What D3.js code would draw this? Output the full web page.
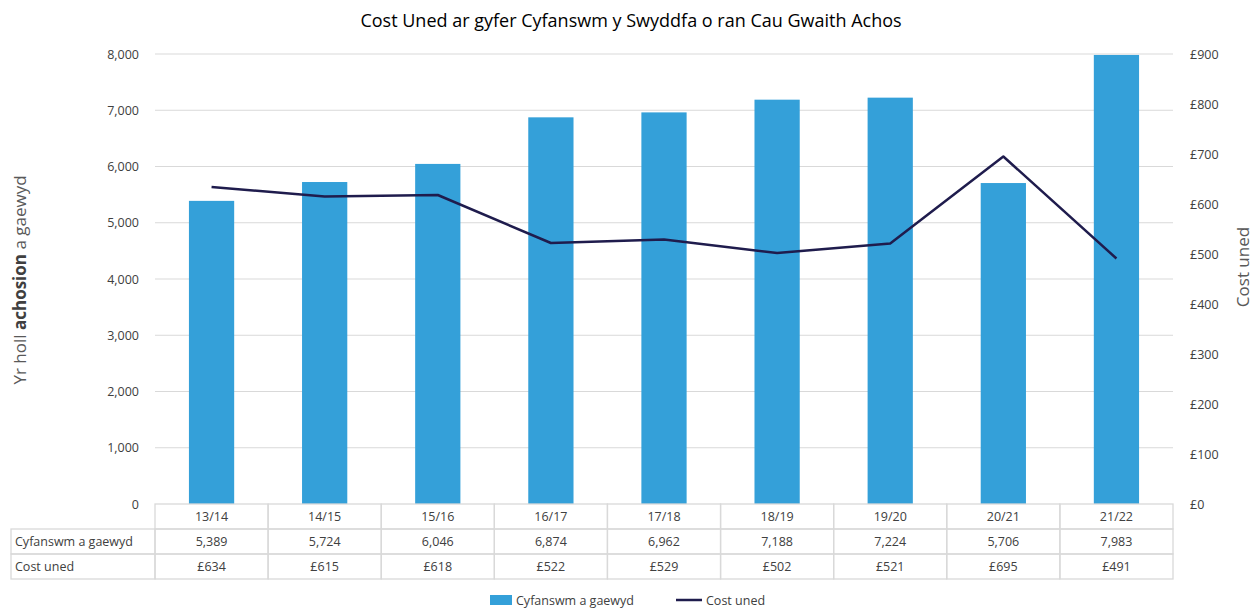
<!DOCTYPE html>
<html>
<head>
<meta charset="utf-8">
<script src="https://cdn.jsdelivr.net/npm/d3@7"></script>
<style>
  body { margin: 0; background: #fff; }
  svg { font-family: "Open Sans", sans-serif; }
</style>
</head>
<body>
<svg id="chart" width="1260" height="609"></svg>
<script>
// data
var years = ["13/14", "14/15", "15/16", "16/17", "17/18", "18/19", "19/20", "20/21", "21/22"];
var closedCases = [5389, 5724, 6046, 6874, 6962, 7188, 7224, 5706, 7983];
var unitCost = [634, 615, 618, 522, 529, 502, 521, 695, 491];
var leftTicks = [0, 1000, 2000, 3000, 4000, 5000, 6000, 7000, 8000];
var rightTicks = [0, 100, 200, 300, 400, 500, 600, 700, 800, 900];

var barColor = "#34a0d9";
var lineColor = "#1f1c4d";
var gridColor = "#d9d9d9";
var textColor = "#404040";

var svg = d3.select("#chart");
var plot = { left: 155, right: 1173, top: 54, bottom: 504 };

var x = d3.scaleBand().domain(years).range([plot.left, plot.right]).paddingInner(0.6).paddingOuter(0.3);
var xCol = d3.scaleBand().domain(years).range([plot.left, plot.right]);
var yLeft = d3.scaleLinear().domain([0, 8000]).range([plot.bottom, plot.top]);
var yRight = d3.scaleLinear().domain([0, 900]).range([plot.bottom, plot.top]);

// title
svg.append("text")
  .attr("x", 631).attr("y", 27)
  .attr("text-anchor", "middle")
  .style("font-size", "18px").style("fill", "#000")
  .text("Cost Uned ar gyfer Cyfanswm y Swyddfa o ran Cau Gwaith Achos");

// gridlines
svg.append("g").selectAll("line")
  .data(leftTicks.slice(1))
  .enter().append("line")
  .attr("x1", plot.left).attr("x2", plot.right)
  .attr("y1", function(d) { return yLeft(d); })
  .attr("y2", function(d) { return yLeft(d); })
  .attr("stroke", gridColor).attr("stroke-width", 1);

// left axis labels
var leftAxis = d3.axisLeft(yLeft).tickValues(leftTicks).tickSize(0).tickPadding(16).tickFormat(d3.format(","));
var gl = svg.append("g").attr("transform", "translate(" + plot.left + ",0)").call(leftAxis);
gl.select(".domain").remove();
gl.selectAll("text").style("font-size", "12.5px").style("fill", textColor).style("font-family", "Open Sans");

// right axis labels
var rightAxis = d3.axisRight(yRight).tickValues(rightTicks).tickSize(0).tickPadding(17).tickFormat(function(d) { return "£" + d; });
var gr = svg.append("g").attr("transform", "translate(" + plot.right + ",0)").call(rightAxis);
gr.select(".domain").remove();
gr.selectAll("text").style("font-size", "12.5px").style("fill", textColor).style("font-family", "Open Sans");

// bars
svg.append("g").selectAll("rect")
  .data(closedCases)
  .enter().append("rect")
  .attr("x", function(d, i) { return x(years[i]); })
  .attr("width", x.bandwidth())
  .attr("y", function(d) { return yLeft(d); })
  .attr("height", function(d) { return plot.bottom - yLeft(d); })
  .attr("fill", barColor);

// cost line
var line = d3.line()
  .x(function(d, i) { return xCol(years[i]) + xCol.bandwidth() / 2; })
  .y(function(d) { return yRight(d); });
svg.append("path")
  .datum(unitCost)
  .attr("d", line)
  .attr("fill", "none")
  .attr("stroke", lineColor)
  .attr("stroke-width", 2.5)
  .attr("stroke-linejoin", "round");

// axis titles
var leftTitle = svg.append("text")
  .attr("transform", "translate(26,280) rotate(-90)")
  .attr("text-anchor", "middle")
  .style("font-size", "17px").style("fill", "#595959");
leftTitle.append("tspan").text("Yr holl ");
leftTitle.append("tspan").style("font-weight", "bold").style("fill", "#404040").text("achosion");
leftTitle.append("tspan").text(" a gaewyd");

svg.append("text")
  .attr("transform", "translate(1249,267) rotate(-90)")
  .attr("text-anchor", "middle")
  .style("font-size", "17px").style("fill", "#595959")
  .text("Cost uned");

// data table
var rowH = 25;
var labelLeft = 11;
var table = svg.append("g");
var rows = [
  { label: null, values: years },
  { label: "Cyfanswm a gaewyd", values: closedCases.map(d3.format(",")) },
  { label: "Cost uned", values: unitCost.map(function(d) { return "£" + d; }) }
];
rows.forEach(function(row, r) {
  var top = plot.bottom + r * rowH;
  years.forEach(function(yr, i) {
    table.append("rect")
      .attr("x", xCol(yr)).attr("y", top)
      .attr("width", xCol.bandwidth()).attr("height", rowH)
      .attr("fill", "none").attr("stroke", gridColor).attr("stroke-width", 1.3);
    table.append("text")
      .attr("x", xCol(yr) + xCol.bandwidth() / 2).attr("y", top + rowH / 2 + 4.5)
      .attr("text-anchor", "middle")
      .style("font-size", "12.5px").style("fill", textColor)
      .text(row.values[i]);
  });
  if (row.label) {
    table.append("rect")
      .attr("x", labelLeft).attr("y", top)
      .attr("width", plot.left - labelLeft).attr("height", rowH)
      .attr("fill", "none").attr("stroke", gridColor).attr("stroke-width", 1.3);
    table.append("text")
      .attr("x", labelLeft + 4).attr("y", top + rowH / 2 + 4.5)
      .style("font-size", "12.5px").style("fill", textColor)
      .text(row.label);
  }
});

// legend
var legend = svg.append("g").attr("transform", "translate(0,600)");
legend.append("rect").attr("x", 490).attr("y", -5).attr("width", 22).attr("height", 10).attr("fill", barColor);
legend.append("text").attr("x", 516).attr("y", 5).style("font-size", "12.5px").style("fill", textColor).text("Cyfanswm a gaewyd");
legend.append("line").attr("x1", 676).attr("x2", 702).attr("y1", 0).attr("y2", 0).attr("stroke", lineColor).attr("stroke-width", 2.5);
legend.append("text").attr("x", 706).attr("y", 5).style("font-size", "12.5px").style("fill", textColor).text("Cost uned");
</script>
</body>
</html>
